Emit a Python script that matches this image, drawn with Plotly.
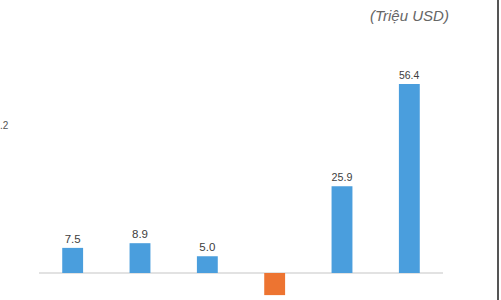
import plotly.graph_objects as go

categories = ["A", "B", "C", "D", "E", "F"]
values = [7.5, 8.9, 5.0, -6.6, 25.9, 56.4]
bar_colors = ["#4A9EDD", "#4A9EDD", "#4A9EDD", "#ED7431", "#4A9EDD", "#4A9EDD"]
labels = [f"{v:.1f}" if v > 0 else "" for v in values]
unit_label = "(Triệu USD)"
side_label = ".2"

W, H = 501, 300
L, R = 39, 58
plot_w = W - L - R

fig = go.Figure()
fig.add_trace(go.Bar(
    x=categories, y=values,
    marker=dict(color=bar_colors, line=dict(width=0)),
    text=labels, textposition="outside",
    textfont=dict(family="Liberation Sans, Arial, sans-serif", size=11.5, color="#404040"),
    cliponaxis=False,
))

fig.update_layout(
    width=W, height=H,
    margin=dict(l=L, r=R, t=0, b=0),
    paper_bgcolor="white", plot_bgcolor="white",
    bargap=0.69,
    showlegend=False,
    xaxis=dict(showticklabels=False, showgrid=False, zeroline=False, showline=False, ticks=""),
    yaxis=dict(range=[-8.06, 81.5], showticklabels=False, showgrid=False,
               zeroline=True, zerolinecolor="#E2E2E2", zerolinewidth=2, showline=False),
    annotations=[
        dict(text=f"<i>{unit_label}</i>", xref="paper", yref="paper",
             x=(451 - L) / plot_w, y=1 - 15 / H, xanchor="right", yanchor="middle",
             showarrow=False, font=dict(family="Liberation Sans, Arial, sans-serif", size=15, color="#666666")),
        dict(text=side_label, xref="paper", yref="paper",
             x=(11 - L) / plot_w, y=1 - 125 / H, xanchor="right", yanchor="middle",
             showarrow=False, font=dict(family="Liberation Sans, Arial, sans-serif", size=10, color="#555555")),
    ],
    shapes=[
        dict(type="line", xref="paper", yref="paper",
             x0=(498 - L) / plot_w, x1=(498 - L) / plot_w, y0=0, y1=1,
             line=dict(color="#555555", width=2)),
    ],
)

fig.write_html("out.html")
